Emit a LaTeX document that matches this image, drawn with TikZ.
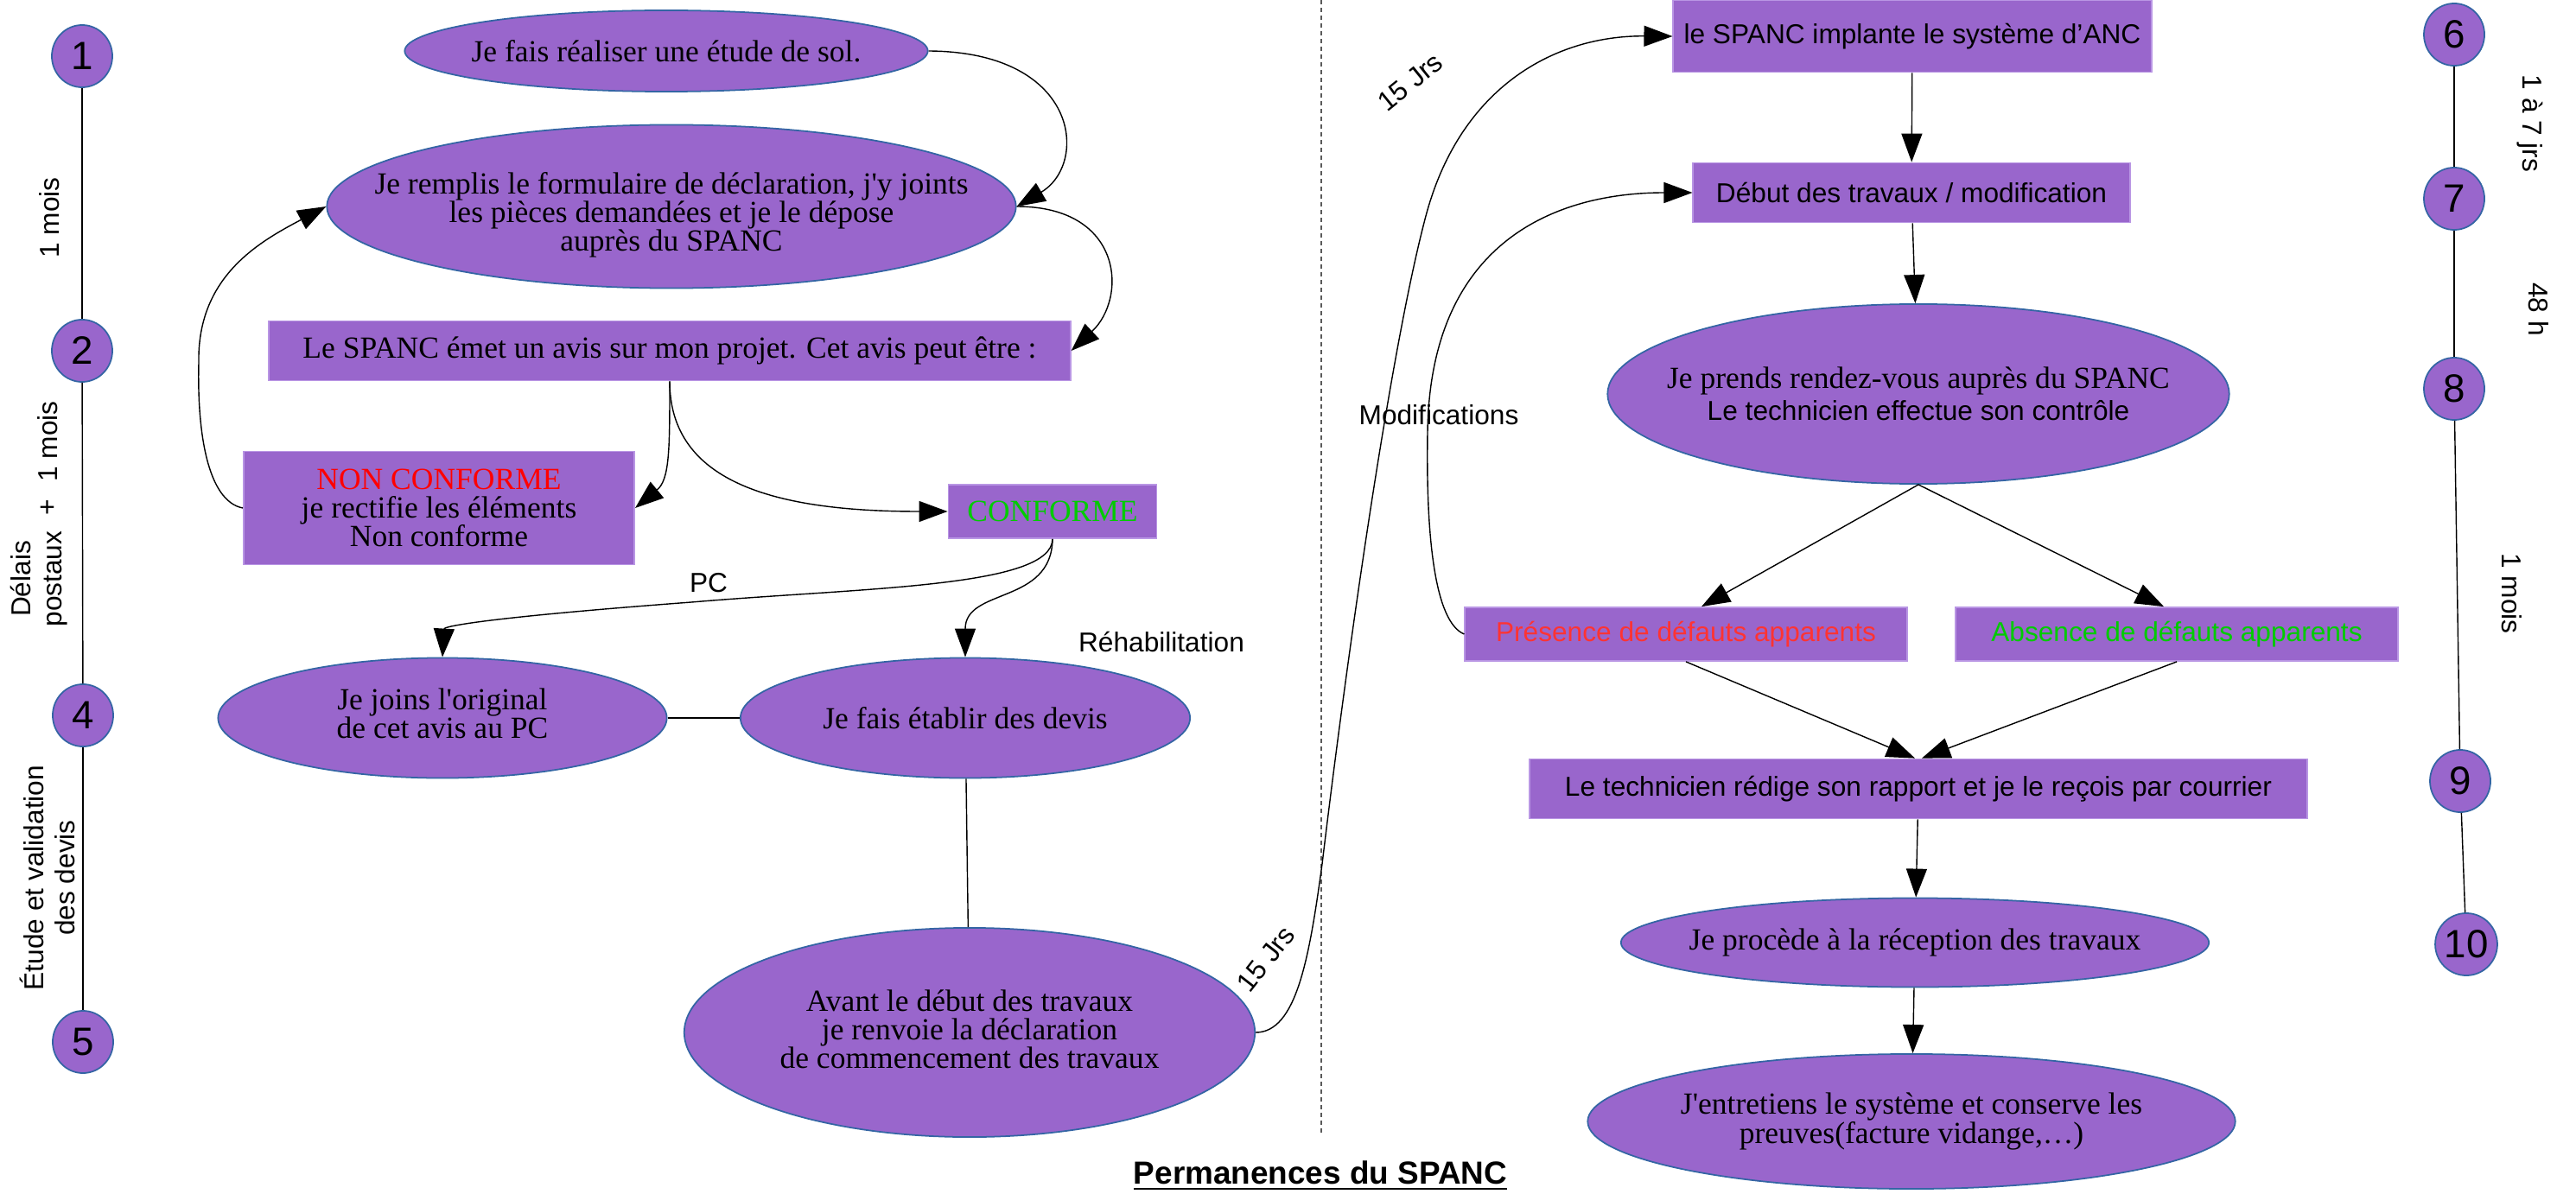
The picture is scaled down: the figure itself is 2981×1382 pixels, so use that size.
\documentclass[tikz,border=0pt]{standalone}
\usepackage{fontspec}
\newfontfamily\serf{Liberation Serif}[Ligatures=TeXOff]
\newfontfamily\sanf{Liberation Sans}[Ligatures=TeXOff]
\usetikzlibrary{shapes.geometric,arrows.meta,calc}
\definecolor{pfill}{RGB}{153,102,204}
\definecolor{eline}{RGB}{52,101,164}
\definecolor{rline}{RGB}{185,150,228}
\definecolor{myred}{RGB}{255,0,0}
\definecolor{myredb}{RGB}{255,51,51}
\definecolor{mygreen}{RGB}{0,204,0}
\definecolor{dashgray}{RGB}{90,90,90}
\newcommand\sertext{\serf\fontsize{10.1}{9.4}\selectfont\lineskiplimit=-20pt\relax}
\newcommand\santext{\sanf\fontsize{9}{10.3}\selectfont\lineskiplimit=-20pt\relax}
\begin{document}
\begin{tikzpicture}[x=0.01cm,y=-0.01cm,
  ell/.style={ellipse, fill=pfill, draw=eline, line width=0.5pt, inner sep=0pt},
  etxt/.style={font=\sertext, align=center, inner sep=0pt},
  box/.style={rectangle, fill=pfill, draw=rline, line width=0.5pt, inner sep=0pt, align=center},
  num/.style={ellipse, fill=pfill, draw=eline, line width=0.5pt, inner sep=0pt, minimum width=0.70cm, minimum height=0.72cm, font=\sanf\fontsize{13}{13}\selectfont},
  arr/.style={-{Triangle[length=0.33cm,width=0.24cm]}, line width=0.4pt},
  con/.style={line width=0.4pt},
  lbl/.style={font=\santext, inner sep=0pt, align=center},
  sep/.style={draw=dashgray, line width=0.4pt, dash pattern=on 0.05cm off 0.04cm},
]
\useasboundingbox (0,0) rectangle (2981,1382);

% ---------- left column nodes ----------
\node[ell, minimum width=6.05cm, minimum height=0.94cm,
  label={[etxt]center:{Je fais réaliser une étude de sol.}}] (etude) at (771,59) {};
\node[ell, minimum width=7.97cm, minimum height=1.89cm,
  label={[etxt, yshift=-0.1cm]center:{Je remplis le formulaire de déclaration, j'y joints\\les pièces demandées et je le dépose\\auprès du SPANC}}] (decl) at (777,239) {};
\node[box, minimum width=9.27cm, minimum height=0.69cm, font=\sertext] (avis) at (775,406) {Le SPANC émet un avis sur mon projet. Cet avis peut être :};
\node[box, minimum width=4.52cm, minimum height=1.31cm, font=\sertext] (nonc) at (508,588) {\textcolor{myred}{NON CONFORME}\\je rectifie les éléments\\Non conforme};
\node[box, minimum width=2.41cm, minimum height=0.62cm, font=\sertext, text=mygreen] (conf) at (1218,592) {CONFORME};
\node[ell, minimum width=5.19cm, minimum height=1.39cm,
  label={[etxt, yshift=0.05cm]center:{Je joins l'original\\de cet avis au PC}}] (pc) at (512,831) {};
\node[ell, minimum width=5.20cm, minimum height=1.39cm,
  label={[etxt]center:{Je fais établir des devis}}] (devis) at (1117,831) {};
\node[ell, minimum width=6.60cm, minimum height=2.42cm,
  label={[etxt, yshift=0.04cm]center:{Avant le début des travaux\\je renvoie la déclaration\\de commencement des travaux}}] (avant) at (1122,1195) {};

% ---------- right column nodes ----------
\node[box, minimum width=5.53cm, minimum height=0.83cm, font=\santext] (impl) at (2213,42) {le SPANC implante le système d’ANC};
\node[box, minimum width=5.05cm, minimum height=0.69cm, font=\santext] (debut) at (2212,223) {Début des travaux / modification};
\node[ell, minimum width=7.19cm, minimum height=2.08cm,
  label={[etxt]center:{Je prends rendez-vous auprès du SPANC\\[1pt]{\santext Le technicien effectue son contrôle}}}] (rdv) at (2220,456) {};
\node[box, minimum width=5.11cm, minimum height=0.62cm, font=\santext, text=myredb] (pres) at (1951,734) {Présence de défauts apparents};
\node[box, minimum width=5.12cm, minimum height=0.62cm, font=\santext, text=mygreen] (abs) at (2519,734) {Absence de défauts apparents};
\node[box, minimum width=8.99cm, minimum height=0.69cm, font=\santext] (rap) at (2220,913) {Le technicien rédige son rapport et je le reçois par courrier};
\node[ell, minimum width=6.80cm, minimum height=1.03cm,
  label={[etxt]center:{Je procède à la réception des travaux}}] (recep) at (2216,1091) {};
\node[ell, minimum width=7.49cm, minimum height=1.56cm,
  label={[etxt]center:{J'entretiens le système et conserve les\\preuves(facture vidange,…)}}] (entr) at (2212,1298) {};

% ---------- timelines ----------
\node[num] (t1) at (95,65) {1};
\node[num] (t2) at (95,406) {2};
\node[num] (t4) at (96,828) {4};
\node[num] (t5) at (96,1206) {5};
\node[num] (t6) at (2840,40) {6};
\node[num] (t7) at (2840,230) {7};
\node[num] (t8) at (2840,450) {8};
\node[num] (t9) at (2847,904) {9};
\node[num] (t10) at (2854,1093) {10};
\draw[con] (t1) -- (t2);
\draw[con] (t2) -- (t4);
\draw[con] (t4) -- (t5);
\draw[con] (t6) -- (t7);
\draw[con] (t7) -- (t8);
\draw[con] (t8) -- (t9);
\draw[con] (t9) -- (t10);

% ---------- timeline labels ----------
\node[lbl, rotate=90] (la) at (57,252) {1 mois};
\node[lbl, rotate=90] (lb) at (55,511) {1 mois};
\node[lbl, rotate=90] (lc) at (56,587) {+};
\node[lbl, rotate=90] (ld) at (45,670) {Délais\\postaux};
\node[lbl, rotate=90] (le) at (55,1016) {Étude et validation\\des devis};
\node[lbl, rotate=-90] (ra) at (2928,143) {1 à 7 jrs};
\node[lbl, rotate=-90] (rb) at (2938,358) {48 h};
\node[lbl, rotate=-90] (rc) at (2907,687) {1 mois};

% ---------- other labels ----------
\node[lbl] (pcl) at (820,675) {PC};
\node[lbl] (rehl) at (1344,743) {Réhabilitation};
\node[lbl] (modl) at (1665,480) {Modifications};
\node[lbl, rotate=52] (jrsa) at (1465,1110) {15 Jrs};
\node[lbl, rotate=39] (jrsb) at (1632,95) {15 Jrs};
\node[inner sep=0pt, font=\sanf\bfseries\fontsize{10.5}{12}\selectfont] (title) at (1528,1361) {\underline{Permanences du SPANC}};

% ---------- separator ----------
\coordinate (dtop) at (1529,0);
\coordinate (dbot) at (1529,1313);
\draw[sep] (dtop) -- (dbot);

% ---------- left connectors ----------
\draw[arr] (etude.east) .. controls (1250,60) and (1260,190) .. (decl.east);
\draw[arr] (decl.east) .. controls (1300,239) and (1305,345) .. (avis.east);
\draw[arr] (nonc.west) .. controls (240,580) and (228,500) .. (230,420) .. controls (228,320) and (300,280) .. (decl.west);
\draw[arr] (avis.south) .. controls (775,520) and (775,555) .. (nonc.east);
\draw[arr] (avis.south) .. controls (775,560) and (900,592) .. (conf.west);
\draw[arr] (conf.south) .. controls (1217,680) and (1000,680) .. (800,697) .. controls (560,715) and (514,725) .. (pc.north);
\draw[arr] (conf.south) .. controls (1217,700) and (1117,680) .. (devis.north);
\draw[con] (pc) -- (devis);
\draw[con] (devis) -- (avant);
\draw[arr] (avant.east) .. controls (1500,1195) and (1515,1110) .. (1530,1000) .. controls (1560,750) and (1610,400) .. (1650,250) .. controls (1690,100) and (1800,41) .. (impl.west);

% ---------- right connectors ----------
\draw[arr] (pres.west) .. controls (1660,720) and (1650,620) .. (1652,500) .. controls (1655,280) and (1800,223) .. (debut.west);
\draw[arr] (impl) -- (debut);
\draw[arr] (debut) -- (rdv);
\draw[arr] (rdv.south) -- ($(pres.north)+(18,0)$);
\draw[arr] (rdv.south) -- ($(abs.north)+(-15,0)$);
\draw[arr] (pres.south) -- ($(rap.north)+(-4,0)$);
\draw[arr] (abs.south) -- ($(rap.north)+(4,0)$);
\draw[arr] (rap) -- (recep);
\draw[arr] (recep) -- (entr);
\end{tikzpicture}
\end{document}
